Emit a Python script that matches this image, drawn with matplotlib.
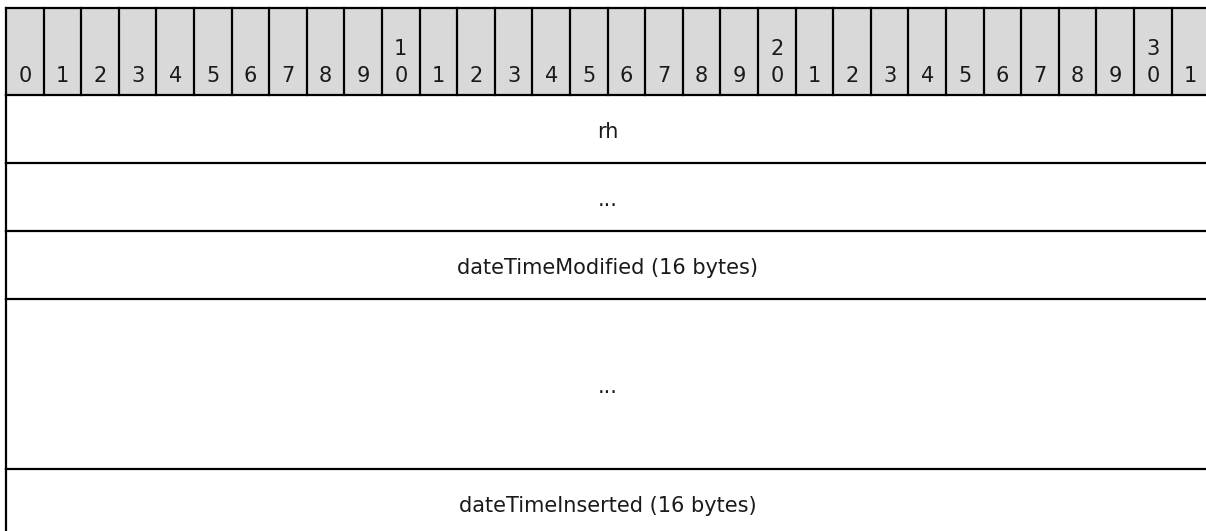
import matplotlib.pyplot as plt
from matplotlib.patches import Rectangle

# bit numbers across the top
bits = list(range(32))
# each field: label and height in rows
field_labels = ["rh", "...", "dateTimeModified (16 bytes)", "...", "dateTimeInserted (16 bytes)"]
field_rows = [1, 1, 1, 2.5, 1]

W, H = 1206, 531
col_w = 37.6
x0 = 6
y_top = 8
head_h = 87
row_h = 68
lw = 1.6
fs = 15
txt_col = "#1a1a1a"

fig = plt.figure(figsize=(W / 100, H / 100), dpi=100)
ax = fig.add_axes([0, 0, 1, 1])
ax.set_xlim(0, W)
ax.set_ylim(H, 0)
ax.axis("off")

table_w = col_w * len(bits)

# header
ax.add_patch(Rectangle((x0, y_top), table_w, head_h, facecolor="#d9d9d9", edgecolor="none"))
ax.plot([x0, x0 + table_w], [y_top, y_top], color="black", lw=lw)
ax.plot([x0, x0 + table_w], [y_top + head_h, y_top + head_h], color="black", lw=lw)
for b in bits:
    xl = x0 + b * col_w
    ax.plot([xl, xl], [y_top, y_top + head_h], color="black", lw=lw)
    xc = xl + col_w / 2
    ax.text(xc, y_top + 74, str(b % 10) if b >= 10 else str(b),
            ha="center", va="baseline", fontsize=fs, color=txt_col)
    if b >= 10 and b % 10 == 0:
        ax.text(xc, y_top + 47, str(b // 10), ha="center", va="baseline",
                fontsize=fs, color=txt_col)

# fields
y = y_top + head_h
for label, rows in zip(field_labels, field_rows):
    h = rows * row_h
    ax.plot([x0, x0], [y, y + h], color="black", lw=lw)
    ax.plot([x0 + table_w, x0 + table_w], [y, y + h], color="black", lw=lw)
    ax.plot([x0, x0 + table_w], [y + h, y + h], color="black", lw=lw)
    ax.text(x0 + table_w / 2, y + h / 2 + 3, label, ha="center", va="center",
            fontsize=fs, color=txt_col)
    y += h

fig.savefig("out.png", dpi=100)
